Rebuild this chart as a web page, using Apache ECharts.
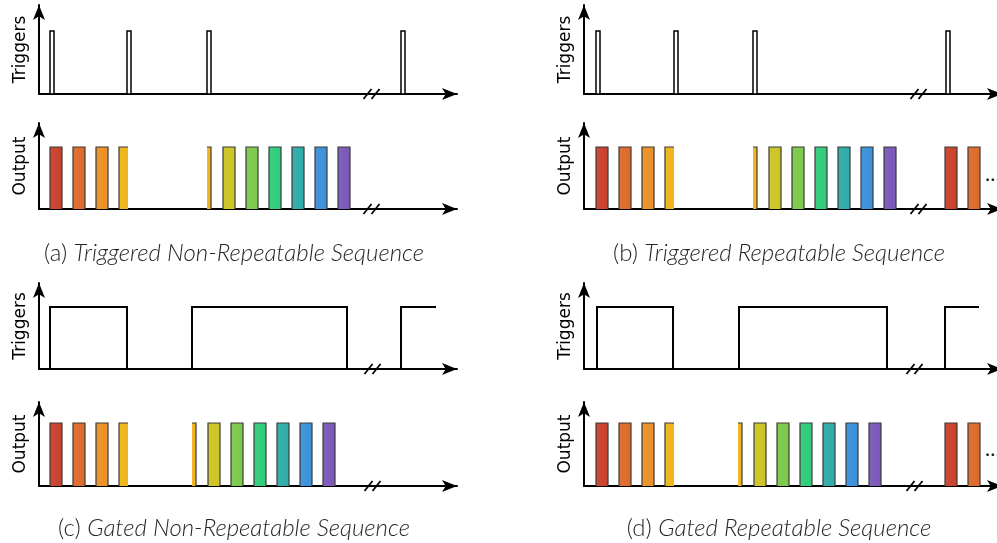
<!DOCTYPE html>
<html><head><meta charset="utf-8">
<script src="https://cdn.jsdelivr.net/npm/echarts@6/dist/echarts.min.js"></script>
<style>html,body{margin:0;padding:0;background:#fff}#c{width:997px;height:543px}</style>
</head><body><div id="c"></div>
<script>
// ---- data (x in time units, 0 = vertical axis) ----
const palette = ['#c9402c','#de6a29','#eb9124','#f0b419','#cdc424','#7bc94a','#2ecc7a','#2daca8','#3a90da','#7b57b9'];
// [start, end]
const triggersA = [[11,15],[88,92],[168,172],[362,366]];
// [start, end, colour index, cut (1 = right side cut, -1 = left side cut, 0 = whole)]
const outputA = [[11,23,0,0],[34,46,1,0],[57,69,2,0],[80,89,3,1],[168,172,3,-1],[184,196,4,0],[207,219,5,0],[230,242,6,0],[253,265,7,0],[276,288,8,0],[299,311,9,0]];
const breakA = [333];
const triggersB = [[12,16],[90,94],[169,173],[362,366]];
const outputB = [[12,24,0,0],[35,47,1,0],[58,70,2,0],[81,90,3,1],[169,173,3,-1],[185,197,4,0],[208,220,5,0],[231,243,6,0],[254,266,7,0],[277,289,8,0],[300,312,9,0],[361,373,0,0],[384,396,1,0]];
const breakB = [335];
// gates: [start, end, falls (1) or still high (0)]
const gatesC = [[11,88,1],[153,308,1],[362,397,0]];
const outputC = [[11,23,0,0],[34,46,1,0],[57,69,2,0],[80,89,3,1],[153,157,3,-1],[169,181,4,0],[192,204,5,0],[215,227,6,0],[238,250,7,0],[261,273,8,0],[284,296,9,0]];
const breakC = [334];
const gatesD = [[13,89,1],[155,303,1],[361,395,0]];
const outputD = [[12,24,0,0],[35,47,1,0],[58,70,2,0],[81,90,3,1],[154,158,3,-1],[170,182,4,0],[193,205,5,0],[216,228,6,0],[239,251,7,0],[262,274,8,0],[285,297,9,0],[361,373,0,0],[384,396,1,0]];
const breakD = [331];
const captions = [['(a) ','Triggered Non-Repeatable Sequence'],['(b) ','Triggered Repeatable Sequence'],['(c) ','Gated Non-Repeatable Sequence'],['(d) ','Gated Repeatable Sequence']];
const rowNames = ['Triggers','Output','Triggers','Output'];

// ---- layout ----
const cols = [39, 584];
const axisLen = 418;
const rows = [ {base:94, mark:31, tip:5}, {base:209, mark:147, tip:123}, {base:369, mark:307, tip:283}, {base:486, mark:423, tip:402} ];

const grids=[], xAxes=[], yAxes=[], series=[];
const axisLine = {show:true, symbol:['none','arrow'], symbolSize:[9,15], lineStyle:{color:'#000', width:2}};
let gi=0;
const panelIdx = {};
for (let r=0;r<4;r++){
  for (let c=0;c<2;c++){
    const R = rows[r];
    const top = R.tip;
    const h = R.base - top;
    grids.push({left:cols[c], top:top, width:axisLen, height:h, outerBoundsMode:'none', containLabel:false});
    xAxes.push({gridIndex:gi, type:'value', min:0, max:axisLen, axisLine:axisLine, axisTick:{show:false}, axisLabel:{show:false}, splitLine:{show:false}});
    yAxes.push({gridIndex:gi, type:'value', min:0, max:h/(R.base-R.mark), axisLine:axisLine, axisTick:{show:false}, axisLabel:{show:false}, splitLine:{show:false},
      name:rowNames[r], nameLocation:'middle', nameRotate:90, nameGap:10,
      nameTextStyle:{fontFamily:'DejaVu Sans', fontSize:17, color:'#000'}});
    panelIdx[r+'_'+c]=gi;
    gi++;
  }
}

function renderPulse(params, api){
  const p0 = api.coord([api.value(0),0]), p1 = api.coord([api.value(1),1]);
  return {type:'rect', shape:{x:p0[0], y:p1[1], width:p1[0]-p0[0], height:p0[1]-p1[1]},
    style:{fill:'#fff', stroke:'#000', lineWidth:1.5}};
}
function renderGate(params, api){
  const s=api.value(0), e=api.value(1), f=api.value(2);
  const pts=[api.coord([s,0]), api.coord([s,1]), api.coord([e,1])];
  if (f===1) pts.push(api.coord([e,0]));
  return {type:'polyline', shape:{points:pts}, style:{stroke:'#000', lineWidth:2, fill:null}};
}
function renderBar(params, api){
  const s=api.value(0), e=api.value(1), ci=api.value(2), cut=api.value(3);
  const p0=api.coord([s,0]), p1=api.coord([e,1]);
  const x0=p0[0], x1=p1[0], yb=p0[1], yt=p1[1];
  const col = palette[ci];
  const children=[{type:'rect', shape:{x:x0,y:yt,width:x1-x0,height:yb-yt},
    style:{fill:new echarts.graphic.LinearGradient(0,0,1,0,[{offset:0,color:echarts.color.lift(col,0.06)},{offset:1,color:col}])}}];
  let pts;
  if (cut===1) pts=[[x1,yt],[x0,yt],[x0,yb]];
  else if (cut===-1) pts=[[x0,yt],[x1,yt],[x1,yb]];
  else pts=[[x0,yb],[x0,yt],[x1,yt],[x1,yb]];
  children.push({type:'polyline', shape:{points:pts}, style:{stroke:'#3a3a3a', lineWidth:1.2, fill:null}});
  return {type:'group', children};
}
function renderBreak(params, api){
  const p=api.coord([api.value(0),0]);
  const x=p[0], y=p[1];
  return {type:'group', children:[
    {type:'line', shape:{x1:x-8.5,y1:y+5,x2:x-0.5,y2:y-5}, style:{stroke:'#000', lineWidth:1.8}},
    {type:'line', shape:{x1:x-0.5,y1:y+5,x2:x+7.5,y2:y-5}, style:{stroke:'#000', lineWidth:1.8}}
  ]};
}
function add(idx, data, fn){
  series.push({type:'custom', xAxisIndex:idx, yAxisIndex:idx, data:data, renderItem:fn, silent:true, z:5});
}
const B = v=>v.map(x=>[x,0]);
add(panelIdx['0_0'], triggersA, renderPulse); add(panelIdx['0_0'], B(breakA), renderBreak);
add(panelIdx['1_0'], outputA, renderBar);    add(panelIdx['1_0'], B(breakA), renderBreak);
add(panelIdx['0_1'], triggersB, renderPulse); add(panelIdx['0_1'], B(breakB), renderBreak);
add(panelIdx['1_1'], outputB, renderBar);    add(panelIdx['1_1'], B(breakB), renderBreak);
add(panelIdx['2_0'], gatesC, renderGate);    add(panelIdx['2_0'], B(breakC), renderBreak);
add(panelIdx['3_0'], outputC, renderBar);    add(panelIdx['3_0'], B(breakC), renderBreak);
add(panelIdx['2_1'], gatesD, renderGate);    add(panelIdx['2_1'], B(breakD), renderBreak);
add(panelIdx['3_1'], outputD, renderBar);    add(panelIdx['3_1'], B(breakD), renderBreak);

const capCenters = [[234,253],[779,253],[234,528],[779,528]];
const capRich = {
  n:{fontFamily:'Lato', fontWeight:300, fontSize:24, fill:'#262626'},
  i:{fontFamily:'Lato', fontWeight:300, fontStyle:'italic', fontSize:24, fill:'#262626'}
};
const capGraphics = captions.map((cp,i)=>({
  type:'text', x:capCenters[i][0], y:capCenters[i][1],
  style:{text:'{n|'+cp[0]+'}{i|'+cp[1]+'}', rich:capRich, align:'center', verticalAlign:'middle'}
}));

const chart = echarts.init(document.getElementById('c'), null, {renderer:'canvas'});
chart.setOption({
  animation:false,
  grid:grids, xAxis:xAxes, yAxis:yAxes, series:series,
  graphic:capGraphics.concat([
    {type:'text', left:985, top:163, style:{text:'...', fontFamily:'Lato', fontSize:22, fill:'#222'}},
    {type:'text', left:985, top:438, style:{text:'...', fontFamily:'Lato', fontSize:22, fill:'#222'}}
  ])
});
</script></body></html>
